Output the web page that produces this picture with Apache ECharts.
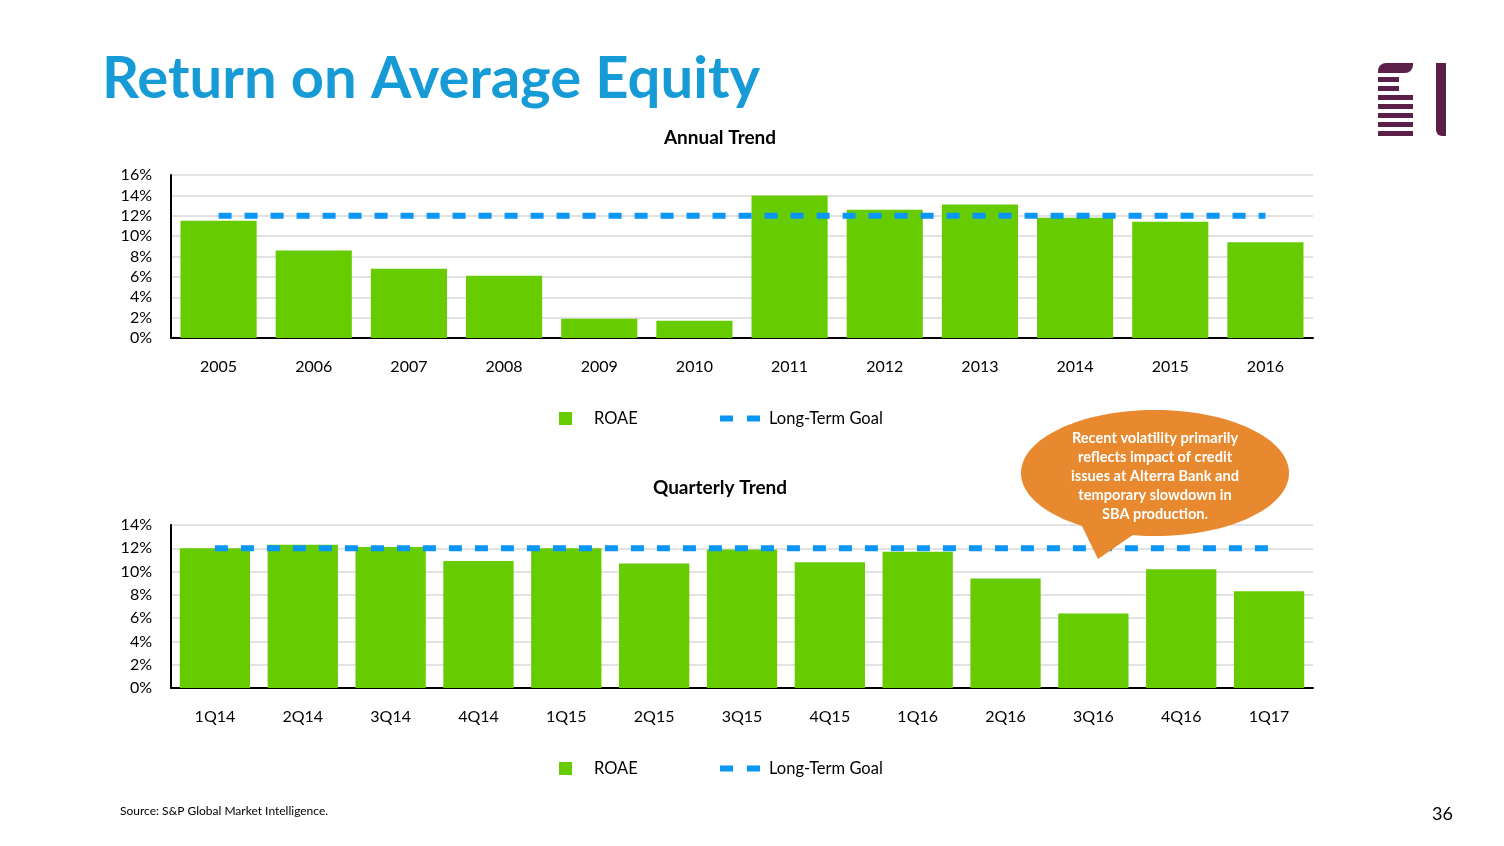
<!DOCTYPE html>
<html>
<head>
<meta charset="utf-8">
<script src="https://cdn.jsdelivr.net/npm/echarts@6/dist/echarts.min.js"></script>
<style>
html,body{margin:0;padding:0;background:#fff;}
#chart{width:1504px;height:846px;}
</style>
</head>
<body>
<div id="chart"></div>
<script>
const years = ['2005','2006','2007','2008','2009','2010','2011','2012','2013','2014','2015','2016'];
const annualROAE = [11.5, 8.6, 6.8, 6.1, 1.9, 1.7, 14.0, 12.6, 13.1, 11.8, 11.4, 9.4];
const annualGoal = [12, 12, 12, 12, 12, 12, 12, 12, 12, 12, 12, 12];
const quarters = ['1Q14','2Q14','3Q14','4Q14','1Q15','2Q15','3Q15','4Q15','1Q16','2Q16','3Q16','4Q16','1Q17'];
const quarterlyROAE = [12.0, 12.3, 12.1, 10.9, 12.0, 10.7, 11.9, 10.8, 11.7, 9.4, 6.4, 10.2, 8.3];
const quarterlyGoal = [12, 12, 12, 12, 12, 12, 12, 12, 12, 12, 12, 12, 12];
const calloutLines = ['Recent volatility primarily','reflects impact of credit','issues at Alterra Bank and','temporary slowdown in','SBA production.'];

const FONT = 'Lato, "Open Sans", sans-serif';
const GREEN = '#66CC00';
const BLUE = '#0A96F5';
const PURPLE = '#5B1F4A';

function yAxis(idx, max) {
  return {
    type: 'value', gridIndex: idx, min: 0, max: max, interval: 2,
    axisLine: {show: true, lineStyle: {color: '#000', width: 2}},
    axisTick: {show: false},
    axisLabel: {formatter: '{value}%', color: '#000', fontSize: 16, fontFamily: FONT, margin: 19},
    splitLine: {lineStyle: {color: '#D9D9D9', width: 1.5}}
  };
}
function xAxis(idx, data) {
  return {
    type: 'category', gridIndex: idx, data: data,
    axisLine: {lineStyle: {color: '#000', width: 2}},
    axisTick: {alignWithLabel: true, length: 5, lineStyle: {color: '#555'}},
    axisLabel: {color: '#000', fontSize: 16, fontFamily: FONT, margin: 21}
  };
}
function legends(top) {
  return [
    {data: ['ROAE'], left: 559, top: top, padding: 0, itemWidth: 13, itemHeight: 13, icon: 'rect',
     textStyle: {fontSize: 16.5, fontFamily: FONT, color: '#000', padding: [0,0,0,17]}},
    {data: [{name: 'Long-Term Goal', icon: 'path://M0,0H13V6H0Z M27,0H40V6H27Z'}], left: 720, top: top, padding: 0, itemWidth: 40, itemHeight: 6,
     textStyle: {fontSize: 16.5, fontFamily: FONT, color: '#000', padding: [0,0,0,4]}}
  ];
}
function goalLine(xi, data) {
  return {
    name: 'Long-Term Goal', type: 'line', xAxisIndex: xi, yAxisIndex: xi, data: data,
    symbol: 'none', showSymbol: false, z: 5,
    lineStyle: {color: BLUE, width: 6, type: [13, 13]},
    itemStyle: {color: BLUE}
  };
}
function bars(xi, data) {
  return {
    name: 'ROAE', type: 'bar', xAxisIndex: xi, yAxisIndex: xi, data: data,
    barCategoryGap: '20%', itemStyle: {color: GREEN}
  };
}

const logo = [
  {type: 'rect', shape: {x: 1378, y: 63, width: 35, height: 10, r: [8, 0, 8, 0]}, style: {fill: PURPLE}},
  {type: 'rect', shape: {x: 1378, y: 77, width: 21, height: 5}, style: {fill: PURPLE}},
  {type: 'rect', shape: {x: 1378, y: 86, width: 21, height: 5}, style: {fill: PURPLE}},
  {type: 'rect', shape: {x: 1378, y: 95, width: 35, height: 5}, style: {fill: PURPLE}},
  {type: 'rect', shape: {x: 1378, y: 104, width: 35, height: 5}, style: {fill: PURPLE}},
  {type: 'rect', shape: {x: 1378, y: 113, width: 35, height: 5}, style: {fill: PURPLE}},
  {type: 'rect', shape: {x: 1378, y: 122, width: 35, height: 5}, style: {fill: PURPLE}},
  {type: 'rect', shape: {x: 1378, y: 131, width: 35, height: 5}, style: {fill: PURPLE}},
  {type: 'rect', shape: {x: 1436, y: 63, width: 10, height: 73, r: [0, 0, 0, 6]}, style: {fill: PURPLE}}
];

const callout = [
  {type: 'polygon', z: 100, shape: {points: [[1080, 522], [1098, 559], [1140, 530]]}, style: {fill: '#E8892F'}},
  {type: 'ellipse', z: 100, shape: {cx: 1155, cy: 473, rx: 134, ry: 63}, style: {fill: '#E8892F'}}
].concat(calloutLines.map(function (line, i) {
  return {type: 'text', z: 101, x: 1155, y: 438 + i * 19,
    style: {text: line, fill: '#fff', font: 'bold 14.6px ' + FONT, align: 'center', verticalAlign: 'middle'}};
}));

const chart = echarts.init(document.getElementById('chart'), null, {renderer: 'canvas'});
chart.setOption({
  animation: false,
  backgroundColor: '#fff',
  title: [
    {text: 'Return on Average Equity', left: 97, top: 45, textStyle: {fontSize: 58, fontWeight: 'bold', color: '#179BD7', fontFamily: FONT}},
    {text: 'Annual Trend', left: 720, textAlign: 'center', top: 128, padding: 0, textStyle: {fontSize: 19, fontWeight: 'bold', color: '#000', fontFamily: FONT}},
    {text: 'Quarterly Trend', left: 720, textAlign: 'center', top: 478, padding: 0, textStyle: {fontSize: 19, fontWeight: 'bold', color: '#000', fontFamily: FONT}},
    {text: 'Source: S&P Global Market Intelligence.', left: 120, top: 805, padding: 0, textStyle: {fontSize: 12, fontWeight: 'normal', color: '#000', fontFamily: FONT}},
    {text: '36', left: 1427, top: 800, textStyle: {fontSize: 18, fontWeight: 'normal', color: '#000', fontFamily: FONT}}
  ],
  legend: legends(410).concat(legends(760)),
  grid: [
    {left: 171, right: 191, top: 175, height: 163},
    {left: 171, right: 191, top: 525, height: 163}
  ],
  xAxis: [xAxis(0, years), xAxis(1, quarters)],
  yAxis: [yAxis(0, 16), yAxis(1, 14)],
  series: [bars(0, annualROAE), goalLine(0, annualGoal), bars(1, quarterlyROAE), goalLine(1, quarterlyGoal)],
  graphic: logo.concat(callout)
});
</script>
</body>
</html>
